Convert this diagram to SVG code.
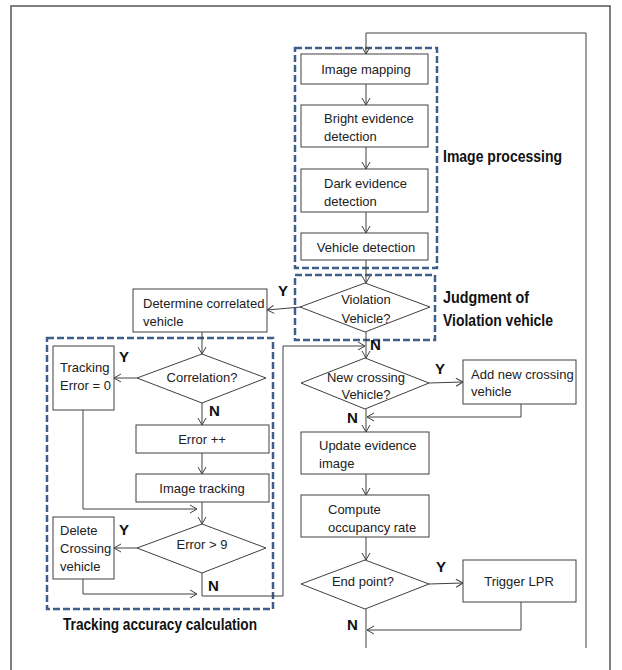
<svg xmlns="http://www.w3.org/2000/svg" width="622" height="670" viewBox="0 0 622 670">
<defs>
<marker id="ah" markerWidth="10" markerHeight="10" refX="8" refY="5" orient="auto" markerUnits="userSpaceOnUse">
<polyline points="1,1 8,5 1,9" fill="none" stroke="#404040" stroke-width="1"/>
</marker>
<style>
.box{fill:#fff;stroke:#404040;stroke-width:1}
.dia{fill:#fff;stroke:#404040;stroke-width:1}
.t{font-family:"Liberation Sans",Arial,sans-serif;font-size:13px;fill:#222}
.c{text-anchor:middle}
.lab{font-family:"Liberation Sans",Arial,sans-serif;font-size:16px;font-weight:bold;fill:#111}
.yn{font-family:"Liberation Sans",Arial,sans-serif;font-size:15px;font-weight:bold;fill:#111}
.grp{fill:none;stroke:#3d5f8a;stroke-width:2.5;stroke-dasharray:7,3}
.ln{fill:none;stroke:#404040;stroke-width:1}
.lna{fill:none;stroke:#404040;stroke-width:1;marker-end:url(#ah)}
</style>
</defs>
<rect x="0" y="0" width="622" height="670" fill="#fff"/>
<g id="frame">
<polyline points="11,670 11,6 610,6 610,670" fill="none" stroke="#555" stroke-width="1.5"/>
</g>
<g id="groups">
<rect class="grp" x="295" y="48" width="142" height="220"/>
<rect class="grp" x="295" y="275" width="140" height="65"/>
<rect class="grp" x="47" y="338" width="226" height="271"/>
<text class="lab" x="443" y="162" textLength="119" lengthAdjust="spacingAndGlyphs">Image processing</text>
<text class="lab" x="443" y="303" textLength="86" lengthAdjust="spacingAndGlyphs">Judgment of</text>
<text class="lab" x="443" y="326" textLength="110" lengthAdjust="spacingAndGlyphs">Violation vehicle</text>
<text class="lab" x="63" y="630" textLength="194" lengthAdjust="spacingAndGlyphs">Tracking accuracy calculation</text>
</g>
<g id="connectors">
<polyline class="lna" points="586,648 586,33 366,33 366,54"/>
<line class="lna" x1="366" y1="84" x2="366" y2="105"/>
<line class="lna" x1="366" y1="147" x2="366" y2="169"/>
<line class="lna" x1="366" y1="212" x2="366" y2="233"/>
<line class="lna" x1="366" y1="260" x2="366" y2="283"/>
<line class="lna" x1="301" y1="307" x2="267" y2="310"/>
<line class="lna" x1="202" y1="332" x2="202" y2="354"/>
<line class="lna" x1="137" y1="378" x2="114" y2="378"/>
<line class="lna" x1="202" y1="403" x2="202" y2="425"/>
<line class="lna" x1="202" y1="453" x2="202" y2="474"/>
<line class="lna" x1="202" y1="502" x2="202" y2="524"/>
<polyline class="lna" points="83,410 83,509 197,509"/>
<line class="lna" x1="137" y1="548" x2="114" y2="548"/>
<polyline class="lna" points="83,579 83,594 197,594"/>
<polyline class="lna" points="202,573 202,596 283,596 283,346 365,346"/>
<line class="lna" x1="366" y1="332" x2="366" y2="358"/>
<line class="lna" x1="429" y1="383" x2="463" y2="382"/>
<polyline class="lna" points="521,404 521,417 367,417"/>
<line class="lna" x1="366" y1="409" x2="366" y2="432"/>
<line class="lna" x1="366" y1="474" x2="366" y2="495"/>
<line class="lna" x1="366" y1="537" x2="366" y2="560"/>
<line class="lna" x1="429" y1="584" x2="463" y2="583"/>
<polyline class="lna" points="521,602 521,630 367,630"/>
<line class="ln" x1="366" y1="609" x2="366" y2="648"/>
</g>
<g id="n_mapping"><rect class="box" x="301" y="54" width="127" height="30"/><text class="t c" x="366" y="74">Image mapping</text></g>
<g id="n_bright"><rect class="box" x="301" y="105" width="127" height="42"/><text class="t" x="324" y="123">Bright evidence</text><text class="t" x="324" y="141">detection</text></g>
<g id="n_dark"><rect class="box" x="301" y="169" width="127" height="43"/><text class="t" x="324" y="188">Dark evidence</text><text class="t" x="324" y="206">detection</text></g>
<g id="n_vehicle"><rect class="box" x="301" y="233" width="127" height="27"/><text class="t c" x="366" y="252">Vehicle detection</text></g>
<g id="n_violation"><polygon class="dia" points="365,283 430,307 365,332 300,307"/><text class="t c" x="366" y="304">Violation</text><text class="t c" x="366" y="323">Vehicle?</text></g>
<g id="n_determine"><rect class="box" x="133" y="289" width="134" height="43"/><text class="t" x="143" y="308">Determine correlated</text><text class="t" x="143" y="326">vehicle</text></g>
<g id="n_correlation"><polygon class="dia" points="202,354 266,378 202,403 137,378"/><text class="t c" x="202" y="382">Correlation?</text></g>
<g id="n_trackerr"><rect class="box" x="53" y="346" width="61" height="64"/><text class="t" x="60" y="372">Tracking</text><text class="t" x="60" y="390">Error = 0</text></g>
<g id="n_errinc"><rect class="box" x="136" y="425" width="133" height="28"/><text class="t c" x="202" y="444">Error ++</text></g>
<g id="n_imgtrack"><rect class="box" x="136" y="474" width="133" height="28"/><text class="t c" x="202" y="493">Image tracking</text></g>
<g id="n_err9"><polygon class="dia" points="202,524 266,548 202,573 137,548"/><text class="t c" x="202" y="549">Error &gt; 9</text></g>
<g id="n_delete"><rect class="box" x="53" y="517" width="61" height="62"/><text class="t" x="60" y="535">Delete</text><text class="t" x="60" y="553">Crossing</text><text class="t" x="60" y="571">vehicle</text></g>
<g id="n_newcross"><polygon class="dia" points="365,358 429,383 365,409 301,383"/><text class="t c" x="366" y="382">New crossing</text><text class="t c" x="366" y="399">Vehicle?</text></g>
<g id="n_addnew"><rect class="box" x="463" y="360" width="113" height="44"/><text class="t" x="471" y="379">Add new crossing</text><text class="t" x="471" y="396">vehicle</text></g>
<g id="n_update"><rect class="box" x="301" y="432" width="128" height="42"/><text class="t" x="319" y="450">Update evidence</text><text class="t" x="319" y="468">image</text></g>
<g id="n_compute"><rect class="box" x="301" y="495" width="128" height="42"/><text class="t" x="328" y="514">Compute</text><text class="t" x="328" y="532">occupancy rate</text></g>
<g id="n_endpoint"><polygon class="dia" points="365,560 429,584 365,609 301,584"/><text class="t c" x="363" y="586">End point?</text></g>
<g id="n_lpr"><rect class="box" x="463" y="560" width="113" height="42"/><text class="t c" x="519" y="586">Trigger LPR</text></g>
<g id="yn">
<text class="yn" x="278" y="296">Y</text>
<text class="yn" x="370" y="350">N</text>
<text class="yn" x="119" y="362">Y</text>
<text class="yn" x="209" y="416">N</text>
<text class="yn" x="119" y="535">Y</text>
<text class="yn" x="208" y="591">N</text>
<text class="yn" x="435" y="374">Y</text>
<text class="yn" x="347" y="423">N</text>
<text class="yn" x="436" y="572">Y</text>
<text class="yn" x="347" y="630">N</text>
</g>
</svg>
